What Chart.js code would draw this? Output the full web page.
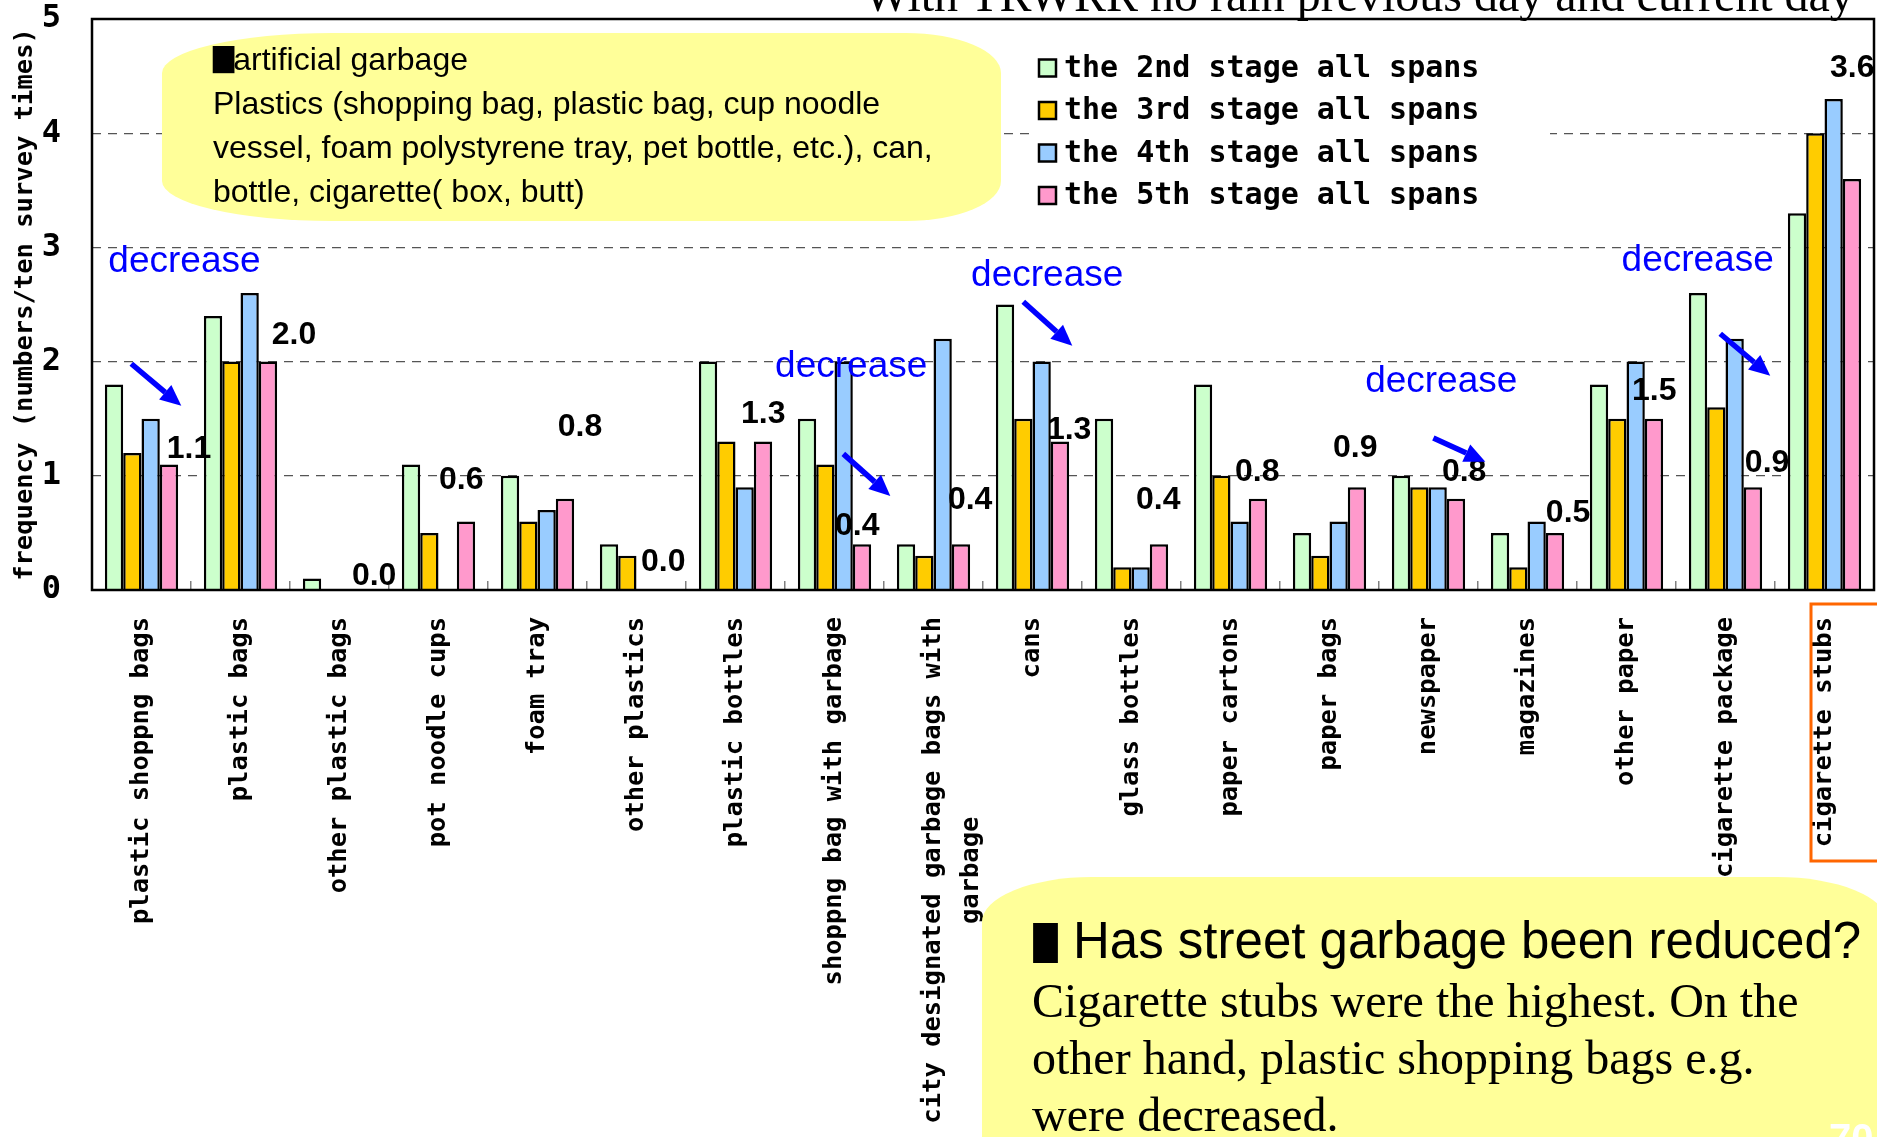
<!DOCTYPE html>
<html><head><meta charset="utf-8">
<script src="https://cdn.jsdelivr.net/npm/chart.js@4.4.1/dist/chart.umd.min.js"></script>
<style>html,body{margin:0;padding:0;background:#fff;overflow:hidden}canvas{display:block}</style>
</head><body>
<canvas id="c" width="1877" height="1137" style="width:1877px;height:1137px"></canvas>
<script>
// ---------------- data ----------------
const categories = [
  'plastic shoppng bags', 'plastic bags', 'other plastic bags', 'pot noodle cups', 'foam tray',
  'other plastics', 'plastic bottles', 'shoppng bag with garbage',
  ['city designated garbage bags with', 'garbage             '],
  'cans', 'glass bottles', 'paper cartons', 'paper bags', 'newspaper', 'magazines',
  'other paper', 'cigarette package', 'cigarette stubs'
];
const seriesNames = ['the 2nd stage all spans', 'the 3rd stage all spans', 'the 4th stage all spans', 'the 5th stage all spans'];
const stage2 = [1.8, 2.4, 0.1, 1.1, 1.0, 0.4, 2.0, 1.5, 0.4, 2.5, 1.5, 1.8, 0.5, 1.0, 0.5, 1.8, 2.6, 3.3];
const stage3 = [1.2, 2.0, 0.0, 0.5, 0.6, 0.3, 1.3, 1.1, 0.3, 1.5, 0.2, 1.0, 0.3, 0.9, 0.2, 1.5, 1.6, 4.0];
const stage4 = [1.5, 2.6, 0.0, 0.0, 0.7, 0.0, 0.9, 2.0, 2.2, 2.0, 0.2, 0.6, 0.6, 0.9, 0.6, 2.0, 2.2, 4.3];
const stage5 = [1.1, 2.0, 0.0, 0.6, 0.8, 0.0, 1.3, 0.4, 0.4, 1.3, 0.4, 0.8, 0.9, 0.8, 0.5, 1.5, 0.9, 3.6];
const yTicks = [0, 1, 2, 3, 4, 5];
const seriesColors = ['#CCFFCC', '#FFCC00', '#99CCFF', '#FF99CC'];

const titleText = 'With TRWRR no rain previous day and current day';
const yTitle = 'frequency (numbers/ten survey times)';
const blockMark = '■';
const box1Lines = ['artificial garbage', 'Plastics (shopping bag, plastic bag, cup noodle',
  'vessel, foam polystyrene tray, pet bottle, etc.), can,', 'bottle, cigarette( box, butt)'];
const box2Head = 'Has street garbage been reduced?';
const box2Lines = ['Cigarette stubs were the highest. On the', 'other hand, plastic shopping bags e.g.', 'were decreased.'];
const decreaseText = 'decrease';

// placement of the stage-5 value labels (category offset, value height)
const labelDX = [0.48, 0.54, 0.35, 0.23, 0.43, 0.27, 0.28, 0.23, 0.37, 0.37, 0.27, 0.27, 0.26, 0.36, 0.41, 0.28, 0.42, 0.28];
const labelY  = [1.23, 2.23, 0.12, 0.96, 1.43, 0.24, 1.54, 0.56, 0.79, 1.40, 0.79, 1.03, 1.24, 1.03, 0.67, 1.74, 1.11, 4.57];
// "decrease" notes and arrows in (category index, value) coordinates
const decreaseAt = [[-0.335, 2.875], [6.40, 1.954], [8.38, 2.752], [12.36, 1.823], [14.95, 2.883]];
const arrowsAt = [
  [-0.103, 1.981, 0.402, 1.613],
  [7.089, 1.192, 7.564, 0.824],
  [8.907, 2.524, 9.402, 2.139],
  [13.049, 1.332, 13.574, 1.122],
  [15.947, 2.244, 16.452, 1.876]
];

// ---------------- helpers ----------------
const MONO = '"DejaVu Sans Mono", "Liberation Mono", monospace';
const SANS = '"Liberation Sans", Arial, sans-serif';
const SERIF = '"Liberation Serif", "Times New Roman", serif';
const CJK = '"Noto Sans CJK JP", "DejaVu Sans", sans-serif';

function blob(ctx, x, y, w, h, rl, rr, ry) {
  ctx.beginPath();
  ctx.moveTo(x + rl, y);
  ctx.lineTo(x + w - rr, y);
  ctx.ellipse(x + w - rr, y + ry, rr, ry, 0, -Math.PI / 2, 0);
  ctx.lineTo(x + w, y + h - ry);
  ctx.ellipse(x + w - rr, y + h - ry, rr, ry, 0, 0, Math.PI / 2);
  ctx.lineTo(x + rl, y + h);
  ctx.ellipse(x + rl, y + h - ry, rl, ry, 0, Math.PI / 2, Math.PI);
  ctx.lineTo(x, y + ry);
  ctx.ellipse(x + rl, y + ry, rl, ry, 0, Math.PI, Math.PI * 1.5);
  ctx.closePath();
}
// draws the black block mark, narrowed horizontally; returns its drawn advance
function block(ctx, x, yMid, size, sx) {
  ctx.save();
  ctx.translate(x, yMid);
  ctx.scale(sx, 1);
  ctx.font = size + 'px ' + CJK;
  ctx.textBaseline = 'middle'; ctx.textAlign = 'left';
  ctx.fillStyle = '#000';
  ctx.fillText(blockMark, 0, 0);
  const w = ctx.measureText(blockMark).width * sx;
  ctx.restore();
  return w;
}
function idxPx(chart, i) {
  const s = chart.scales.x;
  const p0 = s.getPixelForValue(0), p1 = s.getPixelForValue(1);
  return p0 + i * (p1 - p0);
}
function valPx(chart, v) { return chart.scales.y.getPixelForValue(v); }
function arrow(ctx, x1, y1, x2, y2) {
  const a = Math.atan2(y2 - y1, x2 - x1), L = 21, hw = 9.5;
  const bx = x2 - L * Math.cos(a), by = y2 - L * Math.sin(a);
  ctx.strokeStyle = '#0000FF'; ctx.fillStyle = '#0000FF';
  ctx.lineWidth = 5.5; ctx.lineCap = 'butt';
  ctx.beginPath(); ctx.moveTo(x1, y1); ctx.lineTo(bx, by); ctx.stroke();
  ctx.beginPath(); ctx.moveTo(x2, y2);
  ctx.lineTo(bx + hw * Math.sin(a), by - hw * Math.cos(a));
  ctx.lineTo(bx - hw * Math.sin(a), by + hw * Math.cos(a));
  ctx.closePath(); ctx.fill();
}

// ---------------- decorations ----------------
const deco = {
  id: 'deco',
  beforeDatasetsDraw(chart) {
    const ctx = chart.ctx;
    ctx.save();
    // top-left callout
    ctx.fillStyle = '#FFFF99';
    blob(ctx, 162, 33, 839, 188, 170, 95, 40);
    ctx.fill();
    ctx.textBaseline = 'middle';
    ctx.textAlign = 'left';
    const bw = block(ctx, 210, 60, 34, 0.8);
    ctx.fillStyle = '#000';
    ctx.font = '32px ' + SANS;
    ctx.fillText(box1Lines[0], 210 + bw - 4, 61);
    box1Lines.slice(1).forEach((t, i) => ctx.fillText(t, 213, 105 + i * 44));
    // legend
    ctx.fillStyle = '#fff';
    ctx.fillRect(1030, 45, 520, 178);
    ctx.font = 'bold 30px ' + MONO;
    chart.data.datasets.forEach((ds, i) => {
      const cy = 68 + i * 42.5;
      ctx.fillStyle = ds.backgroundColor;
      ctx.fillRect(1039, cy - 8.5, 17, 17);
      ctx.strokeStyle = '#000'; ctx.lineWidth = 2.5;
      ctx.strokeRect(1039, cy - 8.5, 17, 17);
      ctx.fillStyle = '#000';
      ctx.fillText(ds.label, 1064, cy + 1);
    });
    ctx.restore();
  },
  afterDatasetsDraw(chart) {
    const ctx = chart.ctx, a = chart.chartArea;
    ctx.save();
    // frame
    ctx.strokeStyle = '#000'; ctx.lineWidth = 2.5;
    ctx.strokeRect(a.left, a.top, a.right - a.left, a.bottom - a.top);
    // stage-5 value labels
    ctx.fillStyle = '#000';
    ctx.font = 'bold 32px ' + SANS;
    ctx.textAlign = 'center'; ctx.textBaseline = 'middle';
    const last = chart.data.datasets[3].data;
    last.forEach((v, i) => {
      ctx.fillText(v.toFixed(1), idxPx(chart, i + labelDX[i]), valPx(chart, labelY[i]));
    });
    // decrease notes
    ctx.fillStyle = '#0000FF';
    ctx.font = '37px ' + SANS;
    ctx.textAlign = 'left';
    decreaseAt.forEach(([i, v]) => ctx.fillText(decreaseText, idxPx(chart, i), valPx(chart, v)));
    arrowsAt.forEach(([i1, v1, i2, v2]) =>
      arrow(ctx, idxPx(chart, i1), valPx(chart, v1), idxPx(chart, i2), valPx(chart, v2)));
    ctx.restore();
  },
  afterDraw(chart) {
    const ctx = chart.ctx;
    ctx.save();
    // title (cut at the top of the picture)
    ctx.fillStyle = '#000';
    ctx.font = '48px ' + SERIF;
    ctx.textAlign = 'left'; ctx.textBaseline = 'alphabetic';
    ctx.fillText(titleText, 864, 11);
    // orange frame around the last category label
    ctx.strokeStyle = '#FF6600'; ctx.lineWidth = 3;
    ctx.strokeRect(1811, 604, 90, 257);
    // bottom-right callout
    ctx.fillStyle = '#FFFF99';
    blob(ctx, 982, 877, 905, 320, 110, 110, 45);
    ctx.fill();
    ctx.textBaseline = 'middle';
    block(ctx, 1030, 943, 50, 0.62);
    ctx.fillStyle = '#000';
    ctx.font = '51px ' + SANS;
    ctx.fillText(box2Head, 1073, 944);
    ctx.font = '48px ' + SERIF;
    box2Lines.forEach((t, i) => ctx.fillText(t, 1032, 1004 + i * 57));
    // page number
    ctx.fillStyle = '#FFFFFF';
    ctx.font = 'bold 40px ' + SANS;
    ctx.textBaseline = 'alphabetic';
    ctx.fillText('70', 1829, 1152);
    ctx.restore();
  }
};

// ---------------- chart ----------------
const stages = [stage2, stage3, stage4, stage5];
new Chart(document.getElementById('c'), {
  type: 'bar',
  data: {
    labels: categories,
    datasets: stages.map((d, i) => ({
      label: seriesNames[i], data: d,
      backgroundColor: seriesColors[i], borderColor: '#000000', borderWidth: 2.5
    }))
  },
  options: {
    responsive: false, animation: false, devicePixelRatio: 1,
    layout: { padding: { top: 19, right: 3, left: 0, bottom: 0 } },
    datasets: { bar: { categoryPercentage: 0.74, barPercentage: 1.0 } },
    plugins: { legend: { display: false }, tooltip: { enabled: false }, title: { display: false } },
    scales: {
      x: {
        grid: { offset: true, drawOnChartArea: false, drawTicks: true, tickLength: -9, tickColor: '#808080', lineWidth: 1.5 },
        border: { display: false },
        ticks: {
          autoSkip: false, minRotation: 90, maxRotation: 90, padding: 36, color: '#000',
          font: { family: MONO, weight: 'bold', size: 25.5, lineHeight: 1.5 }
        },
        afterFit(s) { s.height = 547; s.paddingLeft = 0; s.paddingRight = 0; }
      },
      y: {
        min: 0, max: 5,
        afterBuildTicks(s) { s.ticks = yTicks.map(v => ({ value: v })); },
        ticks: { padding: 31, color: '#000', font: { family: MONO, weight: 'bold', size: 32 } },
        grid: { color: '#555555', lineWidth: 1.2, drawTicks: false },
        border: { display: false, dash: [9, 7] },
        title: { display: true, text: yTitle, color: '#000', padding: { top: 10, bottom: 0 },
          font: { family: MONO, weight: 'bold', size: 25.5 } },
        afterFit(s) { s.width = 92; s.paddingTop = 0; s.paddingBottom = 0; }
      }
    }
  },
  plugins: [deco]
});
</script>
</body></html>
